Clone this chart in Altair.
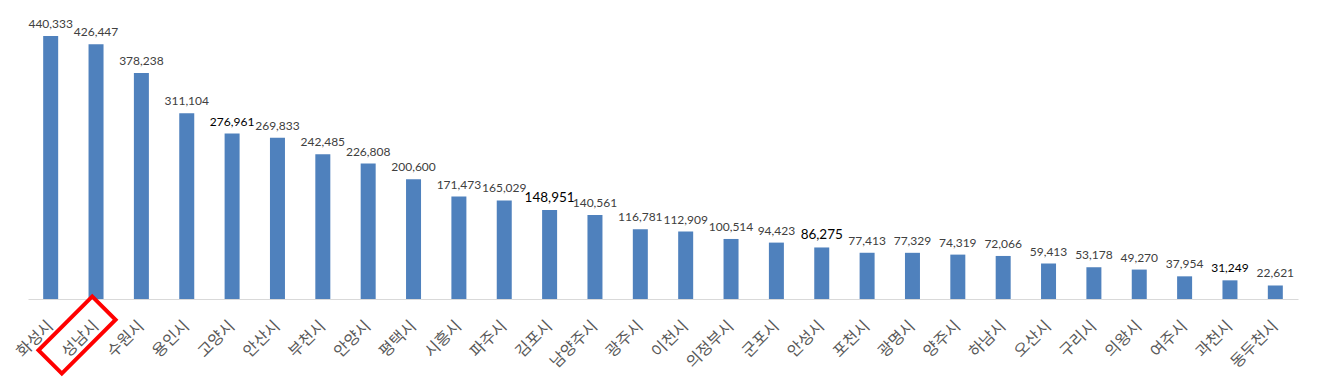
import altair as alt
import pandas as pd

cities = ["화성시", "성남시", "수원시", "용인시", "고양시", "안산시", "부천시", "안양시",
          "평택시", "시흥시", "파주시", "김포시", "남양주시", "광주시", "이천시", "의정부시",
          "군포시", "안성시", "포천시", "광명시", "양주시", "하남시", "오산시", "구리시",
          "의왕시", "여주시", "과천시", "동두천시"]
values = [440333, 426447, 378238, 311104, 276961, 269833, 242485, 226808,
          200600, 171473, 165029, 148951, 140561, 116781, 112909, 100514,
          94423, 86275, 77413, 77329, 74319, 72066, 59413, 53178,
          49270, 37954, 31249, 22621]
dark_labels = ["고양시", "김포시", "안성시", "과천시"]
big_labels = ["김포시", "안성시"]
highlight_city = "성남시"

df = pd.DataFrame({"city": cities, "value": values})

x_enc = alt.X("city:N", sort=cities,
              scale=alt.Scale(paddingInner=0, paddingOuter=0),
              axis=alt.Axis(title=None, labelAngle=315, labelFontSize=16,
                            labelColor="#595959", labelFont="Noto Sans CJK KR",
                            ticks=False, domainColor="#D9D9D9", domainWidth=1,
                            labelPadding=24, labelAlign="right", labelBaseline="middle"))
y_enc = alt.Y("value:Q", scale=alt.Scale(domain=[0, 468797], nice=False), axis=None)

base = alt.Chart(df)

bars = base.mark_bar(size=15, color="#4F81BD").encode(x=x_enc, y=y_enc)

labels = base.mark_text(baseline="alphabetic", dy=-8, font="Lato").encode(
    x=alt.X("city:N", sort=cities),
    y=alt.Y("value:Q"),
    text=alt.Text("value:Q", format=","),
    color=alt.condition(alt.FieldOneOfPredicate(field="city", oneOf=dark_labels),
                        alt.value("#000000"), alt.value("#404040")),
    size=alt.condition(alt.FieldOneOfPredicate(field="city", oneOf=big_labels),
                       alt.value(13.5), alt.value(12)),
)

box_path = "M -1 -0.434 L 1 -0.434 L 1 0.434 L -1 0.434 Z"
box = base.transform_filter(alt.datum.city == highlight_city).mark_point(
    shape=box_path, size=5776, angle=315, filled=False, color="#FF0000",
    strokeWidth=4, opacity=1, xOffset=-19, yOffset=36
).encode(x=alt.X("city:N", sort=cities), y=alt.datum(0))

chart = alt.layer(bars, labels, box).properties(
    width=1270, height=280,
    autosize=alt.AutoSizeParams(type="none"),
    padding={"left": 20, "top": 11, "right": 10, "bottom": 80},
).configure_view(stroke=None)

chart.save("out.html", embed_options={"renderer": "svg", "actions": False})
